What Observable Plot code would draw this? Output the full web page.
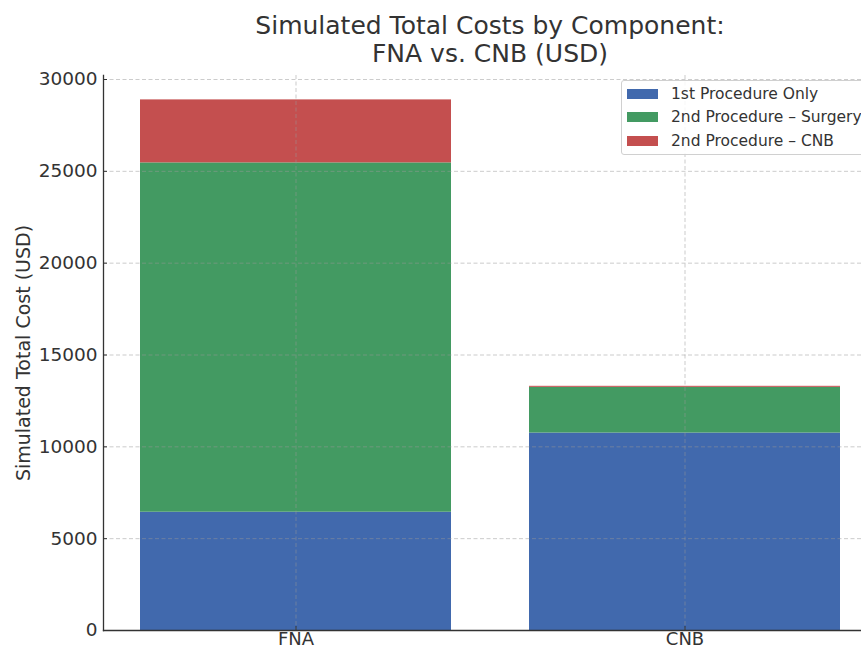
<!DOCTYPE html>
<html>
<head>
<meta charset="utf-8">
<script src="https://cdn.jsdelivr.net/npm/d3@7"></script>
<script src="https://cdn.jsdelivr.net/npm/@observablehq/plot@0.6"></script>
<style>
  body { margin: 0; background: #fff; font-family: "DejaVu Sans", sans-serif; }
  #wrap { position: relative; width: 861px; height: 650px; overflow: hidden; background: #fff; }
  #title { position: absolute; left: 0; top: 12px; width: 980px; text-align: center;
           font-size: 25px; line-height: 28px; color: #333; z-index: 2; }
  #chart { position: absolute; left: 0; top: 56px; }
  #legend { position: absolute; left: 621px; top: 80px; width: 260px;
            border: 1px solid #d0d0d0; border-radius: 3px; background: rgba(255,255,255,0.85);
            padding: 1px 0 1px 5px; box-sizing: border-box; font-size: 15.5px; color: #333; }
  .row { display: flex; align-items: center; height: 23.5px; white-space: nowrap; }
  .sw { width: 31px; height: 10px; margin-right: 13px; flex: none; }
</style>
</head>
<body>
<div id="wrap">
  <div id="chart"></div>
  <div id="title">Simulated Total Costs by Component:<br>FNA vs. CNB (USD)</div>
  <div id="legend"></div>
</div>
<script>
const procedures = ["FNA", "CNB"];
const components = ["1st Procedure Only", "2nd Procedure – Surgery", "2nd Procedure – CNB"];
const colors = ["#4169ad", "#439a62", "#c44f4f"];
const firstOnly = [6440, 10750];
const secondSurgery = [19020, 2490];
const secondCNB = [3430, 55];
const yTicks = [0, 5000, 10000, 15000, 20000, 25000, 30000];
const yLabel = "Simulated Total Cost (USD)";

const series = [firstOnly, secondSurgery, secondCNB];
const rows = [];
components.forEach((c, i) => procedures.forEach((p, j) => rows.push({proc: p, component: c, value: series[i][j]})));

const gridStyle = {stroke: "#999", strokeOpacity: 0.5, strokeDasharray: "4,2.5", strokeWidth: 1};

const chart = Plot.plot({
  width: 861,
  height: 594,
  marginLeft: 103,
  marginRight: 0,
  marginTop: 19,
  marginBottom: 20,
  style: {fontFamily: "DejaVu Sans", fontSize: "18px", color: "#333", background: "transparent", overflow: "visible"},
  x: {type: "band", domain: procedures, range: [103, 876.6], paddingInner: 0.2, paddingOuter: 0.093, align: 0.5},
  y: {domain: [0, 30218]},
  color: {domain: components, range: colors},
  marks: [
    Plot.barY(rows, {x: "proc", y: "value", fill: "component", order: components}),
    Plot.gridY(yTicks, gridStyle),
    Plot.gridX(procedures, gridStyle),
    Plot.frame({anchor: "left", stroke: "#333", strokeWidth: 1.3}),
    Plot.frame({anchor: "bottom", stroke: "#333", strokeWidth: 1.3}),
    Plot.axisY(yTicks, {tickSize: -4, tickPadding: 10, tickFormat: d => String(d), label: null, fontSize: 18.5, stroke: "#333", fill: "#333"}),
    Plot.axisX(procedures, {tickSize: -4, tickPadding: 6, label: null, fontSize: 18, stroke: "#333", fill: "#333"}),
    Plot.text([yLabel], {frameAnchor: "left", textAnchor: "middle", rotate: -90, dx: -80, fontSize: 19, fill: "#333"})
  ]
});
document.getElementById("chart").appendChild(chart);

const legend = document.getElementById("legend");
components.forEach((c, i) => {
  const r = document.createElement("div");
  r.className = "row";
  const s = document.createElement("span");
  s.className = "sw";
  s.style.background = colors[i];
  const t = document.createElement("span");
  t.textContent = c;
  r.appendChild(s); r.appendChild(t);
  legend.appendChild(r);
});
</script>
</body>
</html>
